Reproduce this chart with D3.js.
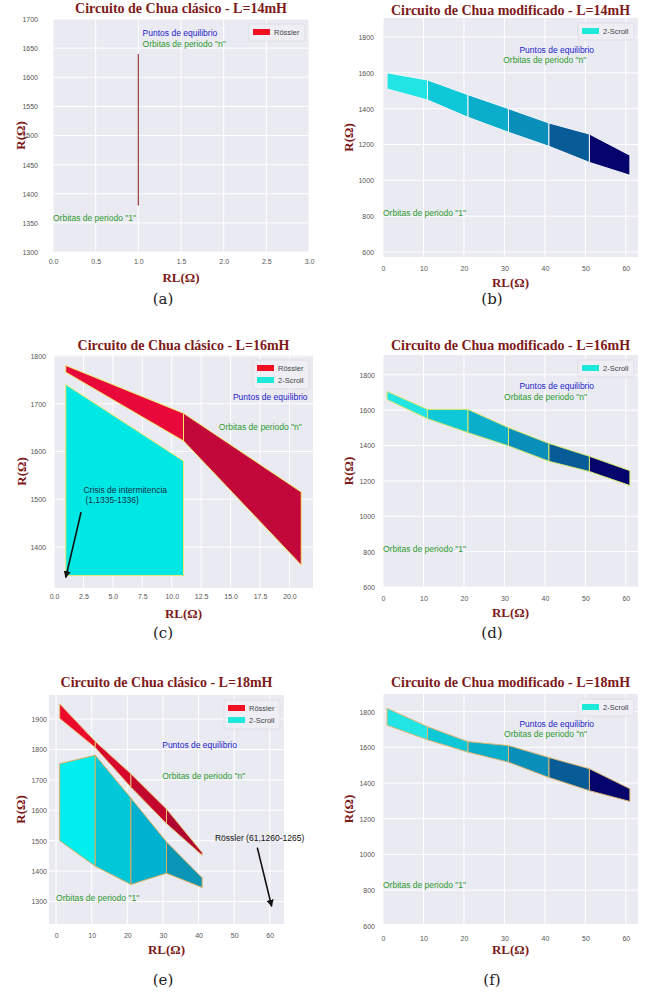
<!DOCTYPE html>
<html><head><meta charset="utf-8">
<script src="https://cdn.jsdelivr.net/npm/d3@7"></script>
<style>body{margin:0;background:#fff} svg{display:block}</style>
</head><body>
<script>
// ---- Regions of behaviour (R in Ω versus RL in Ω) ----

// Classic Chua circuit, L = 14 mH : Rössler attractor only at RL = 1
const RL14_rossler = [1];
const R14_rossler_hi = [1640];
const R14_rossler_lo = [1380];

// Modified Chua circuit: RL sampling common to the three inductances
const RL_mod = [1, 11, 21, 31, 41, 51, 61];
const R14mod_hi = [1600, 1560, 1478, 1400, 1320, 1258, 1140];
const R14mod_lo = [1510, 1448, 1352, 1268, 1190, 1100, 1028];
const R16mod_hi = [1706, 1604, 1604, 1501, 1412, 1339, 1258];
const R16mod_lo = [1660, 1552, 1473, 1398, 1311, 1253, 1174];
const R18mod_hi = [1819, 1716, 1632, 1610, 1543, 1480, 1368];
const R18mod_lo = [1724, 1642, 1573, 1517, 1431, 1357, 1297];

// Classic Chua circuit, L = 16 mH
const RL16_rossler = [1, 11, 21];
const R16_rossler_hi = [1780, 1680, 1515];
const R16_rossler_lo = [1766, 1622, 1362];
const RL16_scroll = [1, 11];
const R16_scroll_hi = [1740, 1580];
const R16_scroll_lo = [1340, 1340];

// Classic Chua circuit, L = 18 mH
const RL18_rossler = [1, 11, 21, 31, 41];
const R18_rossler_hi = [1950, 1826, 1720, 1604, 1461];
const R18_rossler_lo = [1902, 1806, 1676, 1556, 1452];
const RL18_scroll = [1, 11, 21, 31, 41];
const R18_scroll_hi = [1753, 1781, 1640, 1496, 1378];
const R18_scroll_lo = [1500, 1416, 1356, 1393, 1346];

// Tick values
const ticksRL_a = [0, 0.5, 1, 1.5, 2, 2.5, 3];
const ticksR_a = [1300, 1350, 1400, 1450, 1500, 1550, 1600, 1650, 1700];
const ticksRL_mod = [0, 10, 20, 30, 40, 50, 60];
const ticksR_mod = [600, 800, 1000, 1200, 1400, 1600, 1800];
const ticksRL_c = [0, 2.5, 5, 7.5, 10, 12.5, 15, 17.5, 20];
const ticksR_c = [1400, 1500, 1600, 1700, 1800];
const ticksRL_e = [0, 10, 20, 30, 40, 50, 60];
const ticksR_e = [1300, 1400, 1500, 1600, 1700, 1800, 1900];

// Segment colours
const modColors = ["#22e4e4", "#0ec8d8", "#0aaecb", "#0a8fba", "#075c98", "#04046c"];
const rossler16Colors = ["#e8083a", "#c2083a"];
const scroll16Colors = ["#00e8e4"];
const rossler18Colors = ["#ec0a2c", "#d6062c", "#c2062e", "#ae0630"];
const scroll18Colors = ["#00eeee", "#00c8d8", "#00b2d0", "#0a94b6"];

const legendRossler = {label: "Rössler", color: "#f01020"};
const legendScroll = {label: "2-Scroll", color: "#1ee8d8"};

const BLUE = "#2222c8", GREEN = "#2e9a2e", DARKRED = "#7e1a1a";
const txtEq = "Puntos de equilibrio";
const txtN = "Orbitas de periodo \"n\"";
const txt1 = "Orbitas de periodo \"1\"";

const W = 651, H = 992;
const svg = d3.select("body").append("svg").attr("width", W).attr("height", H)
  .attr("font-family", "'Liberation Sans', Arial, sans-serif");

svg.append("defs").append("marker").attr("id", "arrowhead")
  .attr("viewBox", "0 0 10 10").attr("refX", 9).attr("refY", 5)
  .attr("markerWidth", 4.5).attr("markerHeight", 4.5).attr("orient", "auto")
  .append("path").attr("d", "M0,0L10,5L0,10z").attr("fill", "#111");

function panel(cfg) {
  const {l, t, r, b} = cfg.rect;
  const x = d3.scaleLinear().domain(cfg.xDomain).range([l, r]);
  const y = d3.scaleLinear().domain(cfg.yDomain).range([b, t]);
  const g = svg.append("g");

  g.append("rect").attr("x", l).attr("y", t).attr("width", r - l).attr("height", b - t)
    .attr("fill", "#eaeaf2");

  // grid
  g.selectAll(".gx").data(cfg.xTicks).join("line")
    .attr("x1", d => x(d)).attr("x2", d => x(d)).attr("y1", t).attr("y2", b)
    .attr("stroke", "#fff").attr("stroke-width", 1);
  g.selectAll(".gy").data(cfg.yTicks).join("line")
    .attr("y1", d => y(d)).attr("y2", d => y(d)).attr("x1", l).attr("x2", r)
    .attr("stroke", "#fff").attr("stroke-width", 1);

  // axes
  const ax = g.append("g").attr("transform", `translate(0,${b})`)
    .call(d3.axisBottom(x).tickValues(cfg.xTicks).tickSize(0).tickFormat(cfg.xFormat));
  ax.select(".domain").remove();
  ax.selectAll("text").attr("y", cfg.xGap).attr("dy", "0.35em")
    .attr("font-size", 7).attr("fill", "#555").attr("font-family", "'Liberation Sans', Arial, sans-serif");
  const ay = g.append("g").attr("transform", `translate(${l},0)`)
    .call(d3.axisLeft(y).tickValues(cfg.yTicks).tickSize(0).tickFormat(d3.format("d")));
  ay.select(".domain").remove();
  ay.selectAll("text").attr("x", -cfg.yGap).attr("dy", "0.35em")
    .attr("font-size", 7).attr("fill", "#555").attr("font-family", "'Liberation Sans', Arial, sans-serif");

  // regions
  const line = d3.line();
  cfg.layers.forEach(L => {
    if (L.type === "vline") {
      L.x.forEach((xv, i) => {
        g.append("line").attr("x1", x(xv)).attr("x2", x(xv))
          .attr("y1", y(L.hi[i])).attr("y2", y(L.lo[i]))
          .attr("stroke", L.color).attr("stroke-width", 1.2);
      });
    } else {
      for (let i = 0; i < L.x.length - 1; i++) {
        const pts = [[x(L.x[i]), y(L.hi[i])], [x(L.x[i + 1]), y(L.hi[i + 1])],
                     [x(L.x[i + 1]), y(L.lo[i + 1])], [x(L.x[i]), y(L.lo[i])]];
        g.append("path").attr("d", line(pts) + "Z")
          .attr("fill", L.colors[i]).attr("stroke", L.edge).attr("stroke-width", 1)
          .attr("stroke-linejoin", "round");
      }
    }
  });

  // annotations
  cfg.texts.forEach(T => {
    const lines = T.text.split("\n");
    const te = g.append("text").attr("x", x(T.x)).attr("y", y(T.y))
      .attr("fill", T.color).attr("font-size", 8.5);
    lines.forEach((s, i) => te.append("tspan").attr("x", x(T.x) + (i ? 2 : 0)).attr("dy", i ? 10 : 0).text(s));
  });
  (cfg.arrows || []).forEach(A => {
    const x1 = x(A.from[0]), y1 = y(A.from[1]);
    let x2 = x(A.to[0]), y2 = y(A.to[1]);
    const len = Math.hypot(x2 - x1, y2 - y1);
    const s = (len - A.shrink) / len;
    x2 = x1 + (x2 - x1) * s; y2 = y1 + (y2 - y1) * s;
    g.append("line").attr("x1", x1).attr("y1", y1).attr("x2", x2).attr("y2", y2)
      .attr("stroke", "#111").attr("stroke-width", 1.6).attr("marker-end", "url(#arrowhead)");
  });

  // legend
  const n = cfg.legend.length;
  const boxW = 56, rowH = 12;
  const bx = r - 4 - boxW, by = t + 5;
  g.append("rect").attr("x", bx).attr("y", by).attr("width", boxW).attr("height", n * rowH + 5)
    .attr("rx", 2).attr("fill", "#eeeef4").attr("stroke", "#dadae2").attr("stroke-width", 0.8);
  cfg.legend.forEach((e, i) => {
    const cy = by + 8 + i * rowH;
    g.append("rect").attr("x", bx + 4).attr("y", cy - 3).attr("width", 17).attr("height", 6).attr("fill", e.color);
    g.append("text").attr("x", bx + 25).attr("y", cy).attr("dy", "0.35em")
      .attr("font-size", 7.5).attr("fill", "#444").text(e.label);
  });

  // titles
  g.append("text").attr("x", (l + r) / 2).attr("y", cfg.titleY).attr("text-anchor", "middle")
    .attr("font-family", "'Liberation Serif', 'Times New Roman', serif").attr("font-weight", "bold")
    .attr("font-size", 14).attr("fill", DARKRED).text(cfg.title);
  g.append("text").attr("x", (l + r) / 2).attr("y", b + 30).attr("text-anchor", "middle")
    .attr("font-family", "'Liberation Serif', 'Times New Roman', serif").attr("font-weight", "bold")
    .attr("font-size", 13).attr("fill", DARKRED).text("RL(Ω)");
  g.append("text").attr("transform", `translate(${cfg.yLabelX},${(t + b) / 2}) rotate(-90)`)
    .attr("text-anchor", "middle").attr("dy", "0.35em")
    .attr("font-family", "'Liberation Serif', 'Times New Roman', serif").attr("font-weight", "bold")
    .attr("font-size", 13).attr("fill", DARKRED).text("R(Ω)");
  g.append("text").attr("x", cfg.tag[0]).attr("y", cfg.tag[1]).attr("text-anchor", "middle")
    .attr("font-family", "'DejaVu Serif', serif").attr("font-size", 15).attr("fill", "#222")
    .text(cfg.tag[2]);
}

const f1 = d3.format(".1f");
const fInt = d3.format("d");

panel({
  rect: {l: 53, t: 19, r: 309, b: 252}, xDomain: [0, 3], yDomain: [1300, 1700],
  xTicks: ticksRL_a, yTicks: ticksR_a, xFormat: f1, xGap: 10, yGap: 15,
  title: "Circuito de Chua clásico - L=14mH", titleY: 13, yLabelX: 20, tag: [163, 304, "(a)"],
  layers: [{type: "vline", x: RL14_rossler, hi: R14_rossler_hi, lo: R14_rossler_lo, color: "#9c3b3b"}],
  legend: [legendRossler],
  texts: [
    {x: 1.05, y: 1671, text: txtEq, color: BLUE},
    {x: 1.05, y: 1652, text: txtN, color: GREEN},
    {x: 0, y: 1353, text: txt1, color: GREEN}
  ]
});

panel({
  rect: {l: 383, t: 18, r: 638, b: 257}, xDomain: [0, 63], yDomain: [572, 1906],
  xTicks: ticksRL_mod, yTicks: ticksR_mod, xFormat: fInt, xGap: 12, yGap: 9,
  title: "Circuito de Chua modificado - L=14mH", titleY: 14.5, yLabelX: 348, tag: [492, 304, "(b)"],
  layers: [{type: "band", x: RL_mod, hi: R14mod_hi, lo: R14mod_lo, colors: modColors, edge: "#f4f4f6"}],
  legend: [legendScroll],
  texts: [
    {x: 33.7, y: 1711, text: txtEq, color: BLUE},
    {x: 29.7, y: 1655, text: txtN, color: GREEN},
    {x: 0, y: 801, text: txt1, color: GREEN}
  ]
});

panel({
  rect: {l: 54, t: 355, r: 313, b: 588}, xDomain: [0, 22], yDomain: [1314, 1802],
  xTicks: ticksRL_c, yTicks: ticksR_c, xFormat: f1, xGap: 9, yGap: 8,
  title: "Circuito de Chua clásico - L=16mH", titleY: 350, yLabelX: 21, tag: [163, 638, "(c)"],
  layers: [
    {type: "band", x: RL16_rossler, hi: R16_rossler_hi, lo: R16_rossler_lo, colors: rossler16Colors, edge: "#f2ea6a"},
    {type: "band", x: RL16_scroll, hi: R16_scroll_hi, lo: R16_scroll_lo, colors: scroll16Colors, edge: "#f2ea6a"}
  ],
  legend: [legendRossler, legendScroll],
  texts: [
    {x: 15.2, y: 1708, text: txtEq, color: BLUE},
    {x: 14.0, y: 1645, text: txtN, color: GREEN},
    {x: 2.5, y: 1513, text: "Crisis de intermitencia\n(1,1335-1336)", color: "#12304a"}
  ],
  arrows: [{from: [2.3, 1473], to: [1, 1336], shrink: 0}]
});

panel({
  rect: {l: 383, t: 355, r: 638, b: 587}, xDomain: [0, 63], yDomain: [600, 1912],
  xTicks: ticksRL_mod, yTicks: ticksR_mod, xFormat: fInt, xGap: 12, yGap: 8,
  title: "Circuito de Chua modificado - L=16mH", titleY: 350, yLabelX: 348, tag: [492, 638, "(d)"],
  layers: [{type: "band", x: RL_mod, hi: R16mod_hi, lo: R16mod_lo, colors: modColors, edge: "#d6e86c"}],
  legend: [legendScroll],
  texts: [
    {x: 33.7, y: 1717, text: txtEq, color: BLUE},
    {x: 29.9, y: 1659, text: txtN, color: GREEN},
    {x: 0, y: 798, text: txt1, color: GREEN}
  ]
});

panel({
  rect: {l: 49, t: 695, r: 284, b: 924}, xDomain: [-2, 64], yDomain: [1226, 1979],
  xTicks: ticksRL_e, yTicks: ticksR_e, xFormat: fInt, xGap: 12, yGap: 2,
  title: "Circuito de Chua clásico - L=18mH", titleY: 687, yLabelX: 20, tag: [163, 985, "(e)"],
  layers: [
    {type: "band", x: RL18_rossler, hi: R18_rossler_hi, lo: R18_rossler_lo, colors: rossler18Colors, edge: "#e8c070"},
    {type: "band", x: RL18_scroll, hi: R18_scroll_hi, lo: R18_scroll_lo, colors: scroll18Colors, edge: "#d8b060"}
  ],
  legend: [legendRossler, legendScroll],
  texts: [
    {x: 29.8, y: 1805, text: txtEq, color: BLUE},
    {x: 29.8, y: 1704, text: txtN, color: GREEN},
    {x: 0, y: 1303, text: txt1, color: GREEN},
    {x: 44.6, y: 1499, text: "Rössler (61,1260-1265)", color: "#111"}
  ],
  arrows: [{from: [56.5, 1477], to: [61, 1262], shrink: 7}]
});

panel({
  rect: {l: 383, t: 694, r: 638, b: 924}, xDomain: [0, 63], yDomain: [610, 1899],
  xTicks: ticksRL_mod, yTicks: ticksR_mod, xFormat: fInt, xGap: 15, yGap: 8,
  title: "Circuito de Chua modificado - L=18mH", titleY: 687, yLabelX: 348, tag: [492, 985, "(f)"],
  layers: [{type: "band", x: RL_mod, hi: R18mod_hi, lo: R18mod_lo, colors: modColors, edge: "#dcb870"}],
  legend: [legendScroll],
  texts: [
    {x: 33.7, y: 1714, text: txtEq, color: BLUE},
    {x: 29.9, y: 1658, text: txtN, color: GREEN},
    {x: 0, y: 809, text: txt1, color: GREEN}
  ]
});
</script>
</body></html>
